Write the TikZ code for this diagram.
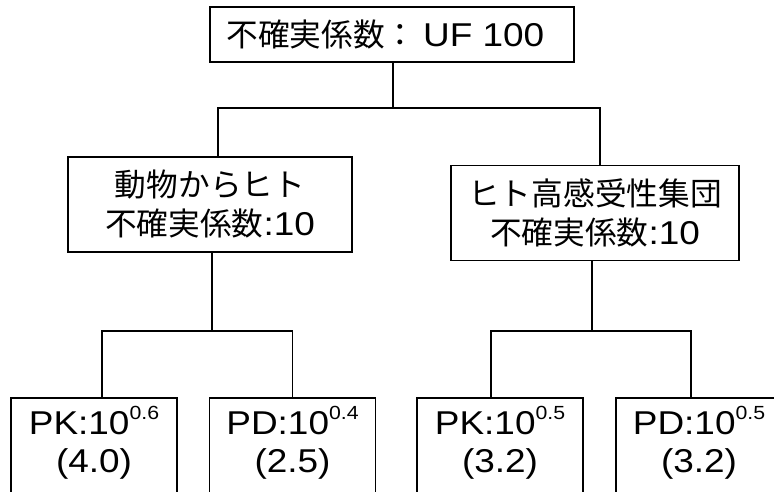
\documentclass[tikz,border=0pt]{standalone}
\usepackage{fontspec}
\setmainfont{Liberation Sans}[FakeStretch=1.12]
\newfontfamily\jp{Noto Sans CJK JP}[Scale=0.96]
\usetikzlibrary{positioning}

% raised exponent, sitting on the cap line
\newcommand{\expo}[1]{\raisebox{15pt}{\fontsize{19}{19}\selectfont #1}}

\begin{document}
\begin{tikzpicture}[
    x=1pt, y=-1pt,
    line width=1.6pt,
    box/.style={draw=black, inner sep=0pt, align=center,
      font=\fontsize{33}{39}\selectfont},
    topbox/.style={box, minimum width=364pt, minimum height=55pt},
    midbox/.style={box, minimum height=95pt},
    leafbox/.style={box, anchor=north, minimum width=166pt,
      inner ysep=8pt, text depth=60pt,
      font=\fontsize{33}{38}\selectfont}
  ]
\useasboundingbox (0,0) rectangle (774,492);
\clip (0,0) rectangle (774,492);

% factor boxes
\node[topbox] (uf) at (392,34.5) {{\jp 不確実係数：}\hspace{0.2em}UF 100\hspace{0.4em}};
\node[midbox, minimum width=284pt] (animal) at (210,204.5)
  {{\jp 動物からヒト}\\{\jp 不確実係数}:10};
\node[midbox, minimum width=288pt] (human) at (595,213)
  {{\jp ヒト高感受性集団}\\{\jp 不確実係数}:10};

\node[leafbox] (pk1) at (94,397) {PK:10\expo{0.6}\\(4.0)};
\node[leafbox] (pd1) at (292.5,397) {PD:10\expo{0.4}\\(2.5)};
\node[leafbox] (pk2) at (500,397) {PK:10\expo{0.5}\\(3.2)};
\node[leafbox] (pd2) at (699,397) {PD:10\expo{0.5}\\(3.2)};

% tree connectors
\coordinate (split0) at (393,108);
\coordinate (split1) at (212,331);
\coordinate (split2) at (592,331);

\draw (uf.south -| split0) -- (split0);
\draw ([xshift=8pt]animal.north) |- (split0) -| ([xshift=5pt]human.north);

\draw (animal.south -| split1) -- (split1);
\draw ([xshift=8pt]pk1.north) |- (split1) -| (pd1.north);

\draw (human.south -| split2) -- (split2);
\draw ([xshift=-9pt]pk2.north) |- (split2) -| ([xshift=-8pt]pd2.north);
\end{tikzpicture}
\end{document}
